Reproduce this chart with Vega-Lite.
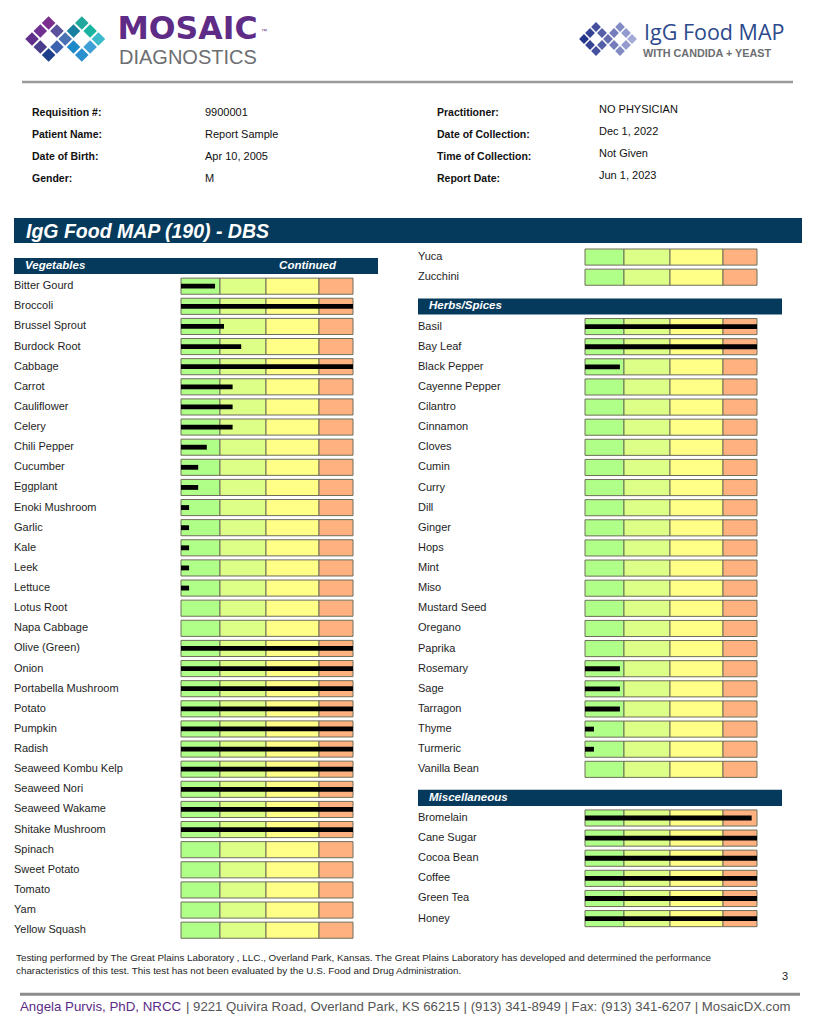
{
"$schema": "https://vega.github.io/schema/vega-lite/v6.json",
"padding": 0,
"background": "white",
"spacing": 0,
"config": {"view": {"stroke": null}, "font": "Liberation Sans"},
"vconcat": [
{"hconcat": [
 {"width": 410, "height": 80,
  "layer": [
   {"data": {"values": [
     {"gx":2,"gy":0,"tile":"t01"},{"gx":6,"gy":0,"tile":"t02"},
     {"gx":1,"gy":1,"tile":"t03"},{"gx":3,"gy":1,"tile":"t04"},{"gx":5,"gy":1,"tile":"t05"},{"gx":7,"gy":1,"tile":"t06"},
     {"gx":0,"gy":2,"tile":"t07"},{"gx":4,"gy":2,"tile":"t08"},{"gx":8,"gy":2,"tile":"t09"},
     {"gx":1,"gy":3,"tile":"t10"},{"gx":3,"gy":3,"tile":"t11"},{"gx":5,"gy":3,"tile":"t12"},{"gx":7,"gy":3,"tile":"t13"},
     {"gx":2,"gy":4,"tile":"t14"},{"gx":6,"gy":4,"tile":"t15"}]},
    "mark": {"type": "point", "shape": "square", "filled": true, "size": 92, "angle": 45, "opacity": 1},
    "encoding": {
     "x": {"field": "gx", "type": "quantitative", "scale": {"domain": [-3.8554, 45.5422], "nice": false, "zero": false}, "axis": null},
     "y": {"field": "gy", "type": "quantitative", "scale": {"domain": [-2.875, 7.125], "reverse": true, "nice": false, "zero": false}, "axis": null},
     "color": {"field": "tile", "type": "nominal", "legend": null, "scale": {"range": ["#7b2e8e","#1fa89b","#6f3192","#5b529d","#177f9f","#19b5a0","#602e8b","#4a72b3","#3bbacb","#4b3f8d","#3c62af","#1b88c8","#3e9ed6","#1f3f8b","#2b8ecf"]}}
    }},
   {"data": {"values": [{}]},
    "mark": {"type": "text", "text": "MOSAIC", "align": "left", "baseline": "alphabetic", "font": "DejaVu Sans", "fontWeight": "bold", "fontSize": 31.5, "color": "#5e2b86"},
    "encoding": {
     "x": {"datum": 10.3, "type": "quantitative", "scale": {"domain": [-3.8554, 45.5422], "nice": false, "zero": false}, "axis": null},
     "y": {"datum": 1.94, "type": "quantitative", "scale": {"domain": [-2.875, 7.125], "reverse": true, "nice": false, "zero": false}, "axis": null}}},
   {"data": {"values": [{}]},
    "mark": {"type": "text", "text": "™", "align": "left", "baseline": "alphabetic", "font": "Liberation Sans", "fontSize": 6, "color": "#5e2b86"},
    "encoding": {
     "x": {"datum": 27.6, "type": "quantitative", "scale": {"domain": [-3.8554, 45.5422], "nice": false, "zero": false}, "axis": null},
     "y": {"datum": 1.3, "type": "quantitative", "scale": {"domain": [-2.875, 7.125], "reverse": true, "nice": false, "zero": false}, "axis": null}}},
   {"data": {"values": [{}]},
    "mark": {"type": "text", "text": "DIAGNOSTICS", "align": "left", "baseline": "alphabetic", "font": "Liberation Sans", "fontSize": 20, "color": "#6d6e71"},
    "encoding": {
     "x": {"datum": 10.48, "type": "quantitative", "scale": {"domain": [-3.8554, 45.5422], "nice": false, "zero": false}, "axis": null},
     "y": {"datum": 5.125, "type": "quantitative", "scale": {"domain": [-2.875, 7.125], "reverse": true, "nice": false, "zero": false}, "axis": null}}}
  ]},
 {"width": 411, "height": 80,
  "layer": [
   {"data": {"values": [
     {"gx":2,"gy":0},{"gx":6,"gy":0},
     {"gx":1,"gy":1},{"gx":3,"gy":1},{"gx":5,"gy":1},{"gx":7,"gy":1},
     {"gx":0,"gy":2},{"gx":4,"gy":2},{"gx":8,"gy":2},
     {"gx":1,"gy":3},{"gx":3,"gy":3},{"gx":5,"gy":3},{"gx":7,"gy":3},
     {"gx":2,"gy":4},{"gx":6,"gy":4}]},
    "mark": {"type": "point", "shape": "square", "filled": true, "size": 48, "angle": 45, "opacity": 1},
    "encoding": {
     "x": {"field": "gx", "type": "quantitative", "scale": {"domain": [-29, 39.5], "nice": false, "zero": false}, "axis": null},
     "y": {"field": "gy", "type": "quantitative", "scale": {"domain": [-4.5, 8.8333], "reverse": true, "nice": false, "zero": false}, "axis": null},
     "color": {"field": "gx", "type": "quantitative", "legend": null, "scale": {"range": ["#22358a", "#a3aad8"]}}
    }},
   {"data": {"values": [{}]},
    "mark": {"type": "text", "text": "IgG Food MAP", "align": "left", "baseline": "alphabetic", "font": "Open Sans", "fontSize": 21.5, "color": "#2c4a8c"},
    "encoding": {
     "x": {"datum": 10.0, "type": "quantitative", "scale": {"domain": [-29, 39.5], "nice": false, "zero": false}, "axis": null},
     "y": {"datum": 2.17, "type": "quantitative", "scale": {"domain": [-4.5, 8.8333], "reverse": true, "nice": false, "zero": false}, "axis": null}}},
   {"data": {"values": [{}]},
    "mark": {"type": "text", "text": "WITH CANDIDA + YEAST", "align": "left", "baseline": "alphabetic", "font": "Liberation Sans", "fontWeight": "bold", "fontSize": 10.8, "color": "#6d6e71"},
    "encoding": {
     "x": {"datum": 9.83, "type": "quantitative", "scale": {"domain": [-29, 39.5], "nice": false, "zero": false}, "axis": null},
     "y": {"datum": 5, "type": "quantitative", "scale": {"domain": [-4.5, 8.8333], "reverse": true, "nice": false, "zero": false}, "axis": null}}}
  ]}
], "spacing": 0},
{"width": 821, "height": 166.9,
 "layer": [
  {"data": {"values": [
    {"row":1,"l1":"Requisition #:","v1":"9900001","l2":"Practitioner:","v2":"NO PHYSICIAN"},
    {"row":2,"l1":"Patient Name:","v1":"Report Sample","l2":"Date of Collection:","v2":"Dec 1, 2022"},
    {"row":3,"l1":"Date of Birth:","v1":"Apr 10, 2005","l2":"Time of Collection:","v2":"Not Given"},
    {"row":4,"l1":"Gender:","v1":"M","l2":"Report Date:","v2":"Jun 1, 2023"}]},
   "layer": [
    {"mark": {"type": "text", "align": "left", "baseline": "middle", "font": "Liberation Sans", "fontWeight": "bold", "fontSize": 10.5, "color": "#111"},
     "encoding": {"x": {"datum": 32, "type": "quantitative", "scale": {"domain": [0, 821], "nice": false, "zero": false}, "axis": null},
      "y": {"field": "row", "type": "quantitative", "scale": {"domain": [-0.5, 7.0864], "reverse": true, "nice": false, "zero": false}, "axis": null},
      "text": {"field": "l1", "type": "nominal"}}},
    {"mark": {"type": "text", "align": "left", "baseline": "middle", "font": "Liberation Sans", "fontSize": 11, "color": "#111", "dy": 0.5},
     "encoding": {"x": {"datum": 205, "type": "quantitative", "scale": {"domain": [0, 821], "nice": false, "zero": false}, "axis": null},
      "y": {"field": "row", "type": "quantitative", "scale": {"domain": [-0.5, 7.0864], "reverse": true, "nice": false, "zero": false}, "axis": null},
      "text": {"field": "v1", "type": "nominal"}}},
    {"mark": {"type": "text", "align": "left", "baseline": "middle", "font": "Liberation Sans", "fontWeight": "bold", "fontSize": 10.5, "color": "#111"},
     "encoding": {"x": {"datum": 437, "type": "quantitative", "scale": {"domain": [0, 821], "nice": false, "zero": false}, "axis": null},
      "y": {"field": "row", "type": "quantitative", "scale": {"domain": [-0.5, 7.0864], "reverse": true, "nice": false, "zero": false}, "axis": null},
      "text": {"field": "l2", "type": "nominal"}}},
    {"mark": {"type": "text", "align": "left", "baseline": "middle", "font": "Liberation Sans", "fontSize": 11, "color": "#111", "dy": -2.5},
     "encoding": {"x": {"datum": 599, "type": "quantitative", "scale": {"domain": [0, 821], "nice": false, "zero": false}, "axis": null},
      "y": {"field": "row", "type": "quantitative", "scale": {"domain": [-0.5, 7.0864], "reverse": true, "nice": false, "zero": false}, "axis": null},
      "text": {"field": "v2", "type": "nominal"}}}
   ]},
  {"data": {"values": [{}]},
   "layer": [
    {"mark": {"type": "rule", "color": "#9a9a9a", "strokeWidth": 2.5},
     "encoding": {"x": {"datum": 22, "type": "quantitative", "scale": {"domain": [0, 821], "nice": false, "zero": false}, "axis": null},
      "x2": {"datum": 793},
      "y": {"datum": 82, "type": "quantitative", "scale": {"domain": [80, 246.9], "reverse": true, "nice": false, "zero": false}, "axis": null}}},
    {"mark": {"type": "rect", "fill": "#053a5c"},
     "encoding": {"x": {"datum": 14, "type": "quantitative", "scale": {"domain": [0, 821], "nice": false, "zero": false}, "axis": null},
      "x2": {"datum": 802},
      "y": {"datum": 218, "type": "quantitative", "scale": {"domain": [80, 246.9], "reverse": true, "nice": false, "zero": false}, "axis": null},
      "y2": {"datum": 243}}},
    {"mark": {"type": "text", "text": "IgG Food MAP (190) - DBS", "align": "left", "baseline": "alphabetic", "font": "Liberation Sans", "fontWeight": "bold", "fontStyle": "italic", "fontSize": 19.5, "color": "#ffffff"},
     "encoding": {"x": {"datum": 26, "type": "quantitative", "scale": {"domain": [0, 821], "nice": false, "zero": false}, "axis": null},
      "y": {"datum": 237.5, "type": "quantitative", "scale": {"domain": [80, 246.9], "reverse": true, "nice": false, "zero": false}, "axis": null}}}
   ]}
 ],
 "resolve": {"scale": {"x": "independent", "y": "independent"}}
},
{"hconcat": [
 {"width": 14, "height": 1, "data": {"values": []}, "mark": "point"},
 {"vconcat": [
  {"width": 364, "height": 8.5, "data": {"values": []}, "mark": "point"},
  {"width": 364, "height": 684.25,
   "data": {"values": [
    {"item":"Vegetables","kind":"header","note":"Continued","value":0},
    {"item":"Bitter Gourd","value":19.8},
    {"item":"Broccoli","value":100},
    {"item":"Brussel Sprout","value":25},
    {"item":"Burdock Root","value":35},
    {"item":"Cabbage","value":100},
    {"item":"Carrot","value":30},
    {"item":"Cauliflower","value":30},
    {"item":"Celery","value":30},
    {"item":"Chili Pepper","value":15},
    {"item":"Cucumber","value":10},
    {"item":"Eggplant","value":10},
    {"item":"Enoki Mushroom","value":4.7},
    {"item":"Garlic","value":4.7},
    {"item":"Kale","value":4.7},
    {"item":"Leek","value":4.7},
    {"item":"Lettuce","value":4.7},
    {"item":"Lotus Root","value":0},
    {"item":"Napa Cabbage","value":0},
    {"item":"Olive (Green)","value":100},
    {"item":"Onion","value":100},
    {"item":"Portabella Mushroom","value":100},
    {"item":"Potato","value":100},
    {"item":"Pumpkin","value":100},
    {"item":"Radish","value":100},
    {"item":"Seaweed Kombu Kelp","value":100},
    {"item":"Seaweed Nori","value":100},
    {"item":"Seaweed Wakame","value":100},
    {"item":"Shitake Mushroom","value":100},
    {"item":"Spinach","value":0},
    {"item":"Sweet Potato","value":0},
    {"item":"Tomato","value":0},
    {"item":"Yam","value":0},
    {"item":"Yellow Squash","value":0}]},
   "encoding": {"y": {"field": "item", "type": "nominal", "sort": null, "axis": null, "scale": {"paddingInner": 0.2, "paddingOuter": 0.1}}},
   "layer": [
    {"mark": {"type": "rect", "fill": "#b0ff88", "stroke": "#6e6e5a", "strokeWidth": 1},
     "encoding": {"x": {"datum": 0, "type": "quantitative", "scale": {"domain": [-97.09, 114.53], "nice": false, "zero": false}, "axis": null}, "x2": {"datum": 22.67},
      "opacity": {"condition": {"test": "datum.kind === 'header'", "value": 0}, "value": 1}}},
    {"mark": {"type": "rect", "fill": "#ddff88", "stroke": "#6e6e5a", "strokeWidth": 1},
     "encoding": {"x": {"datum": 22.67, "type": "quantitative", "scale": {"domain": [-97.09, 114.53], "nice": false, "zero": false}, "axis": null}, "x2": {"datum": 49.42},
      "opacity": {"condition": {"test": "datum.kind === 'header'", "value": 0}, "value": 1}}},
    {"mark": {"type": "rect", "fill": "#ffff88", "stroke": "#6e6e5a", "strokeWidth": 1},
     "encoding": {"x": {"datum": 49.42, "type": "quantitative", "scale": {"domain": [-97.09, 114.53], "nice": false, "zero": false}, "axis": null}, "x2": {"datum": 80.23},
      "opacity": {"condition": {"test": "datum.kind === 'header'", "value": 0}, "value": 1}}},
    {"mark": {"type": "rect", "fill": "#ffb280", "stroke": "#6e6e5a", "strokeWidth": 1},
     "encoding": {"x": {"datum": 80.23, "type": "quantitative", "scale": {"domain": [-97.09, 114.53], "nice": false, "zero": false}, "axis": null}, "x2": {"datum": 100},
      "opacity": {"condition": {"test": "datum.kind === 'header'", "value": 0}, "value": 1}}},
    {"mark": {"type": "bar", "color": "#000000", "height": {"band": 0.3}},
     "encoding": {"x": {"field": "value", "type": "quantitative", "scale": {"domain": [-97.09, 114.53], "nice": false, "zero": false}, "axis": null}}},
    {"mark": {"type": "text", "align": "left", "baseline": "middle", "font": "Liberation Sans", "fontSize": 11, "color": "#1e1e1e"},
     "encoding": {"x": {"datum": -97.09, "type": "quantitative", "scale": {"domain": [-97.09, 114.53], "nice": false, "zero": false}, "axis": null},
      "text": {"condition": {"test": "datum.kind === 'header'", "value": ""}, "field": "item", "type": "nominal"}}},
    {"mark": {"type": "rect", "fill": "#053a5c"},
     "encoding": {"x": {"datum": -97.09, "type": "quantitative", "scale": {"domain": [-97.09, 114.53], "nice": false, "zero": false}, "axis": null}, "x2": {"datum": 114.53},
      "opacity": {"condition": {"test": "datum.kind === 'header'", "value": 1}, "value": 0}}},
    {"mark": {"type": "text", "align": "left", "baseline": "middle", "font": "Liberation Sans", "fontSize": 11.5, "fontWeight": "bold", "fontStyle": "italic", "color": "#ffffff"},
     "encoding": {"x": {"datum": -90.7, "type": "quantitative", "scale": {"domain": [-97.09, 114.53], "nice": false, "zero": false}, "axis": null},
      "text": {"condition": {"test": "datum.kind === 'header'", "field": "item", "type": "nominal"}, "value": ""}}},
    {"mark": {"type": "text", "align": "right", "baseline": "middle", "font": "Liberation Sans", "fontSize": 11.5, "fontWeight": "bold", "fontStyle": "italic", "color": "#ffffff"},
     "encoding": {"x": {"datum": 90.1, "type": "quantitative", "scale": {"domain": [-97.09, 114.53], "nice": false, "zero": false}, "axis": null},
      "text": {"condition": {"test": "datum.kind === 'header'", "field": "note", "type": "nominal"}, "value": ""}}}
   ]}
 ], "spacing": 0},
 {"width": 40, "height": 1, "data": {"values": []}, "mark": "point"},
 {"vconcat": [
  {"width": 364, "height": 40.25,
   "data": {"values": [
    {"item":"Yuca","value":0},
    {"item":"Zucchini","value":0}]},
   "encoding": {"y": {"field": "item", "type": "nominal", "sort": null, "axis": null, "scale": {"paddingInner": 0.2, "paddingOuter": 0.1}}},
   "layer": [
    {"mark": {"type": "rect", "fill": "#b0ff88", "stroke": "#6e6e5a", "strokeWidth": 1},
     "encoding": {"x": {"datum": 0, "type": "quantitative", "scale": {"domain": [-97.09, 114.53], "nice": false, "zero": false}, "axis": null}, "x2": {"datum": 22.67}}},
    {"mark": {"type": "rect", "fill": "#ddff88", "stroke": "#6e6e5a", "strokeWidth": 1},
     "encoding": {"x": {"datum": 22.67, "type": "quantitative", "scale": {"domain": [-97.09, 114.53], "nice": false, "zero": false}, "axis": null}, "x2": {"datum": 49.42}}},
    {"mark": {"type": "rect", "fill": "#ffff88", "stroke": "#6e6e5a", "strokeWidth": 1},
     "encoding": {"x": {"datum": 49.42, "type": "quantitative", "scale": {"domain": [-97.09, 114.53], "nice": false, "zero": false}, "axis": null}, "x2": {"datum": 80.23}}},
    {"mark": {"type": "rect", "fill": "#ffb280", "stroke": "#6e6e5a", "strokeWidth": 1},
     "encoding": {"x": {"datum": 80.23, "type": "quantitative", "scale": {"domain": [-97.09, 114.53], "nice": false, "zero": false}, "axis": null}, "x2": {"datum": 100}}},
    {"mark": {"type": "bar", "color": "#000000", "height": {"band": 0.3}},
     "encoding": {"x": {"field": "value", "type": "quantitative", "scale": {"domain": [-97.09, 114.53], "nice": false, "zero": false}, "axis": null}}},
    {"mark": {"type": "text", "align": "left", "baseline": "middle", "font": "Liberation Sans", "fontSize": 11, "color": "#1e1e1e"},
     "encoding": {"x": {"datum": -97.09, "type": "quantitative", "scale": {"domain": [-97.09, 114.53], "nice": false, "zero": false}, "axis": null},
      "text": {"field": "item", "type": "nominal"}}}
   ]},
  {"width": 364, "height": 483,
   "data": {"values": [
    {"item":"Herbs/Spices","kind":"header","value":0},
    {"item":"Basil","value":100},
    {"item":"Bay Leaf","value":100},
    {"item":"Black Pepper","value":20.3},
    {"item":"Cayenne Pepper","value":0},
    {"item":"Cilantro","value":0},
    {"item":"Cinnamon","value":0},
    {"item":"Cloves","value":0},
    {"item":"Cumin","value":0},
    {"item":"Curry","value":0},
    {"item":"Dill","value":0},
    {"item":"Ginger","value":0},
    {"item":"Hops","value":0},
    {"item":"Mint","value":0},
    {"item":"Miso","value":0},
    {"item":"Mustard Seed","value":0},
    {"item":"Oregano","value":0},
    {"item":"Paprika","value":0},
    {"item":"Rosemary","value":20.3},
    {"item":"Sage","value":20.3},
    {"item":"Tarragon","value":20.3},
    {"item":"Thyme","value":5.2},
    {"item":"Turmeric","value":5.2},
    {"item":"Vanilla Bean","value":0}]},
   "encoding": {"y": {"field": "item", "type": "nominal", "sort": null, "axis": null, "scale": {"paddingInner": 0.2, "paddingOuter": 0.1}}},
   "layer": [
    {"mark": {"type": "rect", "fill": "#b0ff88", "stroke": "#6e6e5a", "strokeWidth": 1},
     "encoding": {"x": {"datum": 0, "type": "quantitative", "scale": {"domain": [-97.09, 114.53], "nice": false, "zero": false}, "axis": null}, "x2": {"datum": 22.67},
      "opacity": {"condition": {"test": "datum.kind === 'header'", "value": 0}, "value": 1}}},
    {"mark": {"type": "rect", "fill": "#ddff88", "stroke": "#6e6e5a", "strokeWidth": 1},
     "encoding": {"x": {"datum": 22.67, "type": "quantitative", "scale": {"domain": [-97.09, 114.53], "nice": false, "zero": false}, "axis": null}, "x2": {"datum": 49.42},
      "opacity": {"condition": {"test": "datum.kind === 'header'", "value": 0}, "value": 1}}},
    {"mark": {"type": "rect", "fill": "#ffff88", "stroke": "#6e6e5a", "strokeWidth": 1},
     "encoding": {"x": {"datum": 49.42, "type": "quantitative", "scale": {"domain": [-97.09, 114.53], "nice": false, "zero": false}, "axis": null}, "x2": {"datum": 80.23},
      "opacity": {"condition": {"test": "datum.kind === 'header'", "value": 0}, "value": 1}}},
    {"mark": {"type": "rect", "fill": "#ffb280", "stroke": "#6e6e5a", "strokeWidth": 1},
     "encoding": {"x": {"datum": 80.23, "type": "quantitative", "scale": {"domain": [-97.09, 114.53], "nice": false, "zero": false}, "axis": null}, "x2": {"datum": 100},
      "opacity": {"condition": {"test": "datum.kind === 'header'", "value": 0}, "value": 1}}},
    {"mark": {"type": "bar", "color": "#000000", "height": {"band": 0.3}},
     "encoding": {"x": {"field": "value", "type": "quantitative", "scale": {"domain": [-97.09, 114.53], "nice": false, "zero": false}, "axis": null}}},
    {"mark": {"type": "text", "align": "left", "baseline": "middle", "font": "Liberation Sans", "fontSize": 11, "color": "#1e1e1e"},
     "encoding": {"x": {"datum": -97.09, "type": "quantitative", "scale": {"domain": [-97.09, 114.53], "nice": false, "zero": false}, "axis": null},
      "text": {"condition": {"test": "datum.kind === 'header'", "value": ""}, "field": "item", "type": "nominal"}}},
    {"mark": {"type": "rect", "fill": "#053a5c"},
     "encoding": {"x": {"datum": -97.09, "type": "quantitative", "scale": {"domain": [-97.09, 114.53], "nice": false, "zero": false}, "axis": null}, "x2": {"datum": 114.53},
      "opacity": {"condition": {"test": "datum.kind === 'header'", "value": 1}, "value": 0}}},
    {"mark": {"type": "text", "align": "left", "baseline": "middle", "font": "Liberation Sans", "fontSize": 11.5, "fontWeight": "bold", "fontStyle": "italic", "color": "#ffffff"},
     "encoding": {"x": {"datum": -90.7, "type": "quantitative", "scale": {"domain": [-97.09, 114.53], "nice": false, "zero": false}, "axis": null},
      "text": {"condition": {"test": "datum.kind === 'header'", "field": "item", "type": "nominal"}, "value": ""}}}
   ]},
  {"width": 364, "height": 140.875,
   "data": {"values": [
    {"item":"Miscellaneous","kind":"header","value":0},
    {"item":"Bromelain","value":96.9},
    {"item":"Cane Sugar","value":100},
    {"item":"Cocoa Bean","value":100},
    {"item":"Coffee","value":100},
    {"item":"Green Tea","value":100},
    {"item":"Honey","value":100}]},
   "encoding": {"y": {"field": "item", "type": "nominal", "sort": null, "axis": null, "scale": {"paddingInner": 0.2, "paddingOuter": 0.1}}},
   "layer": [
    {"mark": {"type": "rect", "fill": "#b0ff88", "stroke": "#6e6e5a", "strokeWidth": 1},
     "encoding": {"x": {"datum": 0, "type": "quantitative", "scale": {"domain": [-97.09, 114.53], "nice": false, "zero": false}, "axis": null}, "x2": {"datum": 22.67},
      "opacity": {"condition": {"test": "datum.kind === 'header'", "value": 0}, "value": 1}}},
    {"mark": {"type": "rect", "fill": "#ddff88", "stroke": "#6e6e5a", "strokeWidth": 1},
     "encoding": {"x": {"datum": 22.67, "type": "quantitative", "scale": {"domain": [-97.09, 114.53], "nice": false, "zero": false}, "axis": null}, "x2": {"datum": 49.42},
      "opacity": {"condition": {"test": "datum.kind === 'header'", "value": 0}, "value": 1}}},
    {"mark": {"type": "rect", "fill": "#ffff88", "stroke": "#6e6e5a", "strokeWidth": 1},
     "encoding": {"x": {"datum": 49.42, "type": "quantitative", "scale": {"domain": [-97.09, 114.53], "nice": false, "zero": false}, "axis": null}, "x2": {"datum": 80.23},
      "opacity": {"condition": {"test": "datum.kind === 'header'", "value": 0}, "value": 1}}},
    {"mark": {"type": "rect", "fill": "#ffb280", "stroke": "#6e6e5a", "strokeWidth": 1},
     "encoding": {"x": {"datum": 80.23, "type": "quantitative", "scale": {"domain": [-97.09, 114.53], "nice": false, "zero": false}, "axis": null}, "x2": {"datum": 100},
      "opacity": {"condition": {"test": "datum.kind === 'header'", "value": 0}, "value": 1}}},
    {"mark": {"type": "bar", "color": "#000000", "height": {"band": 0.3}},
     "encoding": {"x": {"field": "value", "type": "quantitative", "scale": {"domain": [-97.09, 114.53], "nice": false, "zero": false}, "axis": null}}},
    {"mark": {"type": "text", "align": "left", "baseline": "middle", "font": "Liberation Sans", "fontSize": 11, "color": "#1e1e1e"},
     "encoding": {"x": {"datum": -97.09, "type": "quantitative", "scale": {"domain": [-97.09, 114.53], "nice": false, "zero": false}, "axis": null},
      "text": {"condition": {"test": "datum.kind === 'header'", "value": ""}, "field": "item", "type": "nominal"}}},
    {"mark": {"type": "rect", "fill": "#053a5c"},
     "encoding": {"x": {"datum": -97.09, "type": "quantitative", "scale": {"domain": [-97.09, 114.53], "nice": false, "zero": false}, "axis": null}, "x2": {"datum": 114.53},
      "opacity": {"condition": {"test": "datum.kind === 'header'", "value": 1}, "value": 0}}},
    {"mark": {"type": "text", "align": "left", "baseline": "middle", "font": "Liberation Sans", "fontSize": 11.5, "fontWeight": "bold", "fontStyle": "italic", "color": "#ffffff"},
     "encoding": {"x": {"datum": -90.7, "type": "quantitative", "scale": {"domain": [-97.09, 114.53], "nice": false, "zero": false}, "axis": null},
      "text": {"condition": {"test": "datum.kind === 'header'", "field": "item", "type": "nominal"}, "value": ""}}}
   ]}
 ], "spacing": 8.4}
], "spacing": 0},
{"width": 821, "height": 84.35,
 "data": {"values": [{}]},
 "layer": [
  {"mark": {"type": "text", "text": "Testing performed by The Great Plains Laboratory , LLC., Overland Park, Kansas.  The Great Plains Laboratory has developed and determined the performance", "align": "left", "baseline": "middle", "font": "Liberation Sans", "fontSize": 9.85, "color": "#1e1e1e"},
   "encoding": {"x": {"datum": 16, "type": "quantitative", "scale": {"domain": [0, 821], "nice": false, "zero": false}, "axis": null},
    "y": {"datum": 957, "type": "quantitative", "scale": {"domain": [939.65, 1024], "reverse": true, "nice": false, "zero": false}, "axis": null}}},
  {"mark": {"type": "text", "text": "characteristics of this test.  This test has not been evaluated by the U.S.  Food and Drug Administration.", "align": "left", "baseline": "middle", "font": "Liberation Sans", "fontSize": 9.85, "color": "#1e1e1e"},
   "encoding": {"x": {"datum": 16, "type": "quantitative", "scale": {"domain": [0, 821], "nice": false, "zero": false}, "axis": null},
    "y": {"datum": 970, "type": "quantitative", "scale": {"domain": [939.65, 1024], "reverse": true, "nice": false, "zero": false}, "axis": null}}},
  {"mark": {"type": "text", "text": "3", "align": "left", "baseline": "middle", "font": "Liberation Sans", "fontSize": 11, "color": "#1e1e1e"},
   "encoding": {"x": {"datum": 782, "type": "quantitative", "scale": {"domain": [0, 821], "nice": false, "zero": false}, "axis": null},
    "y": {"datum": 976, "type": "quantitative", "scale": {"domain": [939.65, 1024], "reverse": true, "nice": false, "zero": false}, "axis": null}}},
  {"mark": {"type": "rule", "color": "#8c8c8c", "strokeWidth": 3},
   "encoding": {"x": {"datum": 20, "type": "quantitative", "scale": {"domain": [0, 821], "nice": false, "zero": false}, "axis": null},
    "x2": {"datum": 800},
    "y": {"datum": 993, "type": "quantitative", "scale": {"domain": [939.65, 1024], "reverse": true, "nice": false, "zero": false}, "axis": null}}},
  {"mark": {"type": "text", "text": "Angela Purvis, PhD, NRCC", "align": "left", "baseline": "middle", "font": "Liberation Sans", "fontSize": 13.3, "color": "#5b2a86"},
   "encoding": {"x": {"datum": 20, "type": "quantitative", "scale": {"domain": [0, 821], "nice": false, "zero": false}, "axis": null},
    "y": {"datum": 1006, "type": "quantitative", "scale": {"domain": [939.65, 1024], "reverse": true, "nice": false, "zero": false}, "axis": null}}},
  {"mark": {"type": "text", "text": "| 9221 Quivira Road, Overland Park, KS 66215  |  (913) 341-8949  |  Fax: (913) 341-6207 | MosaicDX.com", "align": "left", "baseline": "middle", "font": "Liberation Sans", "fontSize": 13.2, "color": "#555555"},
   "encoding": {"x": {"datum": 186, "type": "quantitative", "scale": {"domain": [0, 821], "nice": false, "zero": false}, "axis": null},
    "y": {"datum": 1006, "type": "quantitative", "scale": {"domain": [939.65, 1024], "reverse": true, "nice": false, "zero": false}, "axis": null}}}
 ]}
]
}
